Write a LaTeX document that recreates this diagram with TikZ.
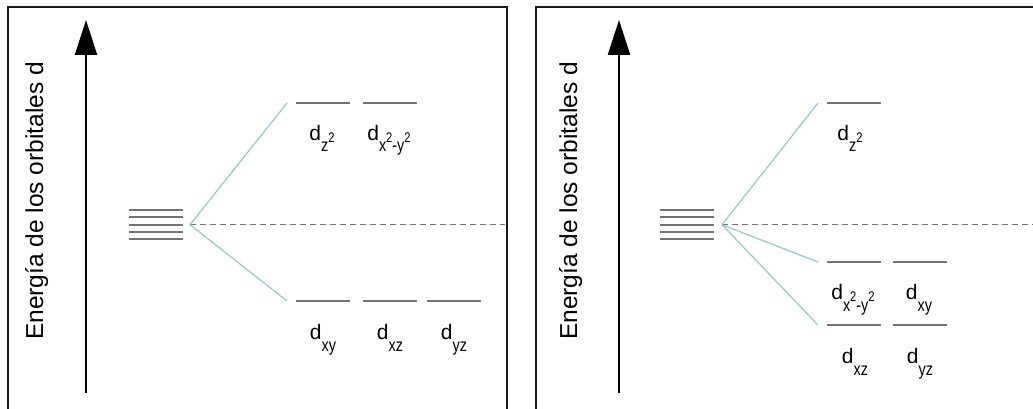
\documentclass[tikz,border=0pt]{standalone}
\usepackage{fontspec}
\setmainfont{Liberation Sans}
\usepackage{graphicx}
\usetikzlibrary{arrows.meta}
\definecolor{splitcol}{RGB}{150,200,200}
\definecolor{levelcol}{RGB}{115,115,115}
\definecolor{framecol}{RGB}{25,25,25}
\newcommand\orbsub[1]{\raisebox{-12pt}{\scalebox{0.8}[1]{\fontsize{18}{18}\selectfont #1}}}
\newcommand\orbsup{\raisebox{10pt}{\fontsize{14}{14}\selectfont 2}}
\begin{document}
\begin{tikzpicture}[x=1pt,y=-1pt,
  frame/.style={line width=2.8pt, draw=framecol},
  axis/.style={line width=2.4pt, -{Triangle[length=35pt,width=22pt]}},
  levelline/.style={draw=levelcol, line width=1.7pt},
  splitline/.style={draw=splitcol, line width=1.2pt},
  refline/.style={draw=levelcol, dash pattern=on 6pt off 4pt, line width=1.2pt},
  elabel/.style={font=\fontsize{24.5}{24.5}\selectfont, rotate=90, anchor=base, inner sep=0pt},
  olabel/.style={font=\fontsize{21}{21}\selectfont, anchor=base, inner sep=0pt}
]
\useasboundingbox (0,0) rectangle (1033,409);
\clip (0,0) rectangle (1033,409);
\fill[white] (0,0) rectangle (1033,409);

% ---------------- left panel ----------------
\draw[frame] (8,7) rectangle (507,430);
\coordinate (a1s) at (86,393);
\coordinate (a1e) at (86,20);
\draw[axis] (a1s) -- (a1e);
\node[elabel] (t1) at (43,201) {Energía de los orbitales d};
\foreach \yy in {210,217.3,224.7,232,239.3}
  \draw[levelline] (129,\yy) -- (183,\yy);
\coordinate (b1) at (190,224.7);
\coordinate (r1) at (505,224.7);
\draw[refline] (b1) -- (r1);
\coordinate (u1) at (287,103);
\coordinate (l1) at (287,301);
\draw[splitline] (b1) -- (u1);
\draw[splitline] (b1) -- (l1);
\draw[levelline] (296,103) -- (350,103);
\draw[levelline] (363,103) -- (417,103);
\draw[levelline] (296,301) -- (350,301);
\draw[levelline] (363,301) -- (417,301);
\draw[levelline] (427,301) -- (481,301);
\node[olabel] (lz2) at (322,140) {d\orbsub{z\orbsup}};
\node[olabel] (lx2y2) at (389,140) {d\orbsub{x\orbsup-y\orbsup}};
\node[olabel] (lxy) at (323,339) {d\orbsub{xy}};
\node[olabel] (lxz) at (390,339) {d\orbsub{xz}};
\node[olabel] (lyz) at (454,339) {d\orbsub{yz}};

% ---------------- right panel ----------------
\draw[frame] (536,7) rectangle (1045,430);
\coordinate (a2s) at (619,393);
\coordinate (a2e) at (619,20);
\draw[axis] (a2s) -- (a2e);
\node[elabel] (t2) at (577,201) {Energía de los orbitales d};
\foreach \yy in {210,217.3,224.7,232,239.3}
  \draw[levelline] (660,\yy) -- (714,\yy);
\coordinate (b2) at (722,224.7);
\coordinate (r2) at (1040,224.7);
\draw[refline] (b2) -- (r2);
\coordinate (u2) at (818,103);
\coordinate (m2) at (818,262);
\coordinate (l2) at (818,325);
\draw[splitline] (b2) -- (u2);
\draw[splitline] (b2) -- (m2);
\draw[splitline] (b2) -- (l2);
\draw[levelline] (827,103) -- (881,103);
\draw[levelline] (827,262) -- (881,262);
\draw[levelline] (893,262) -- (947,262);
\draw[levelline] (827,325) -- (881,325);
\draw[levelline] (893,325) -- (947,325);
\node[olabel] (rz2) at (850,140) {d\orbsub{z\orbsup}};
\node[olabel] (rx2y2) at (853,299) {d\orbsub{x\orbsup-y\orbsup}};
\node[olabel] (rxy) at (919,299) {d\orbsub{xy}};
\node[olabel] (rxz) at (855,363) {d\orbsub{xz}};
\node[olabel] (ryz) at (920,363) {d\orbsub{yz}};
\end{tikzpicture}
\end{document}
